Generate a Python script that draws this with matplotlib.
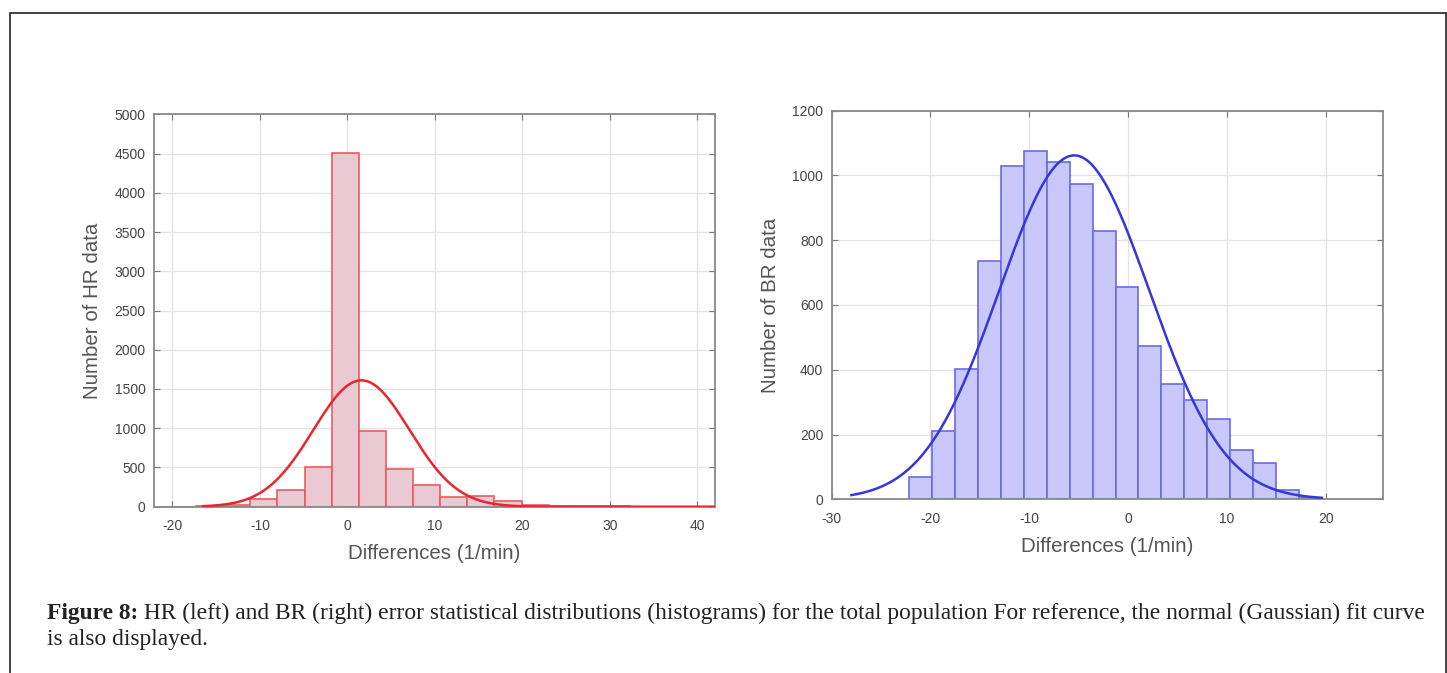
import numpy as np
import matplotlib
matplotlib.use("Agg")
import matplotlib.pyplot as plt
from matplotlib.patches import Rectangle
from matplotlib.text import Annotation

# HR histogram (left)
hr_edges = [-23.5, -20.4, -17.3, -14.2, -11.1, -8.0, -4.9, -1.8, 1.3, 4.4, 7.5,
            10.6, 13.7, 16.8, 19.9, 23.0, 26.1, 29.2, 32.3, 35.4, 38.5, 41.6, 44.7]
hr_counts = [0, 2, 6, 25, 97, 215, 500, 4510, 960, 480, 276,
             119, 140, 76, 22, 14, 10, 4, 2, 1, 2, 0]
hr_fit = {"mu": 1.6, "sigma": 5.5, "peak": 1610, "x0": -16.5, "x1": 42.0}

# BR histogram (right)
br_edges = [-22.15, -19.83, -17.51, -15.19, -12.87, -10.55, -8.23, -5.91, -3.59, -1.27,
            1.05, 3.37, 5.69, 8.01, 10.33, 12.65, 14.97, 17.29, 19.61]
br_counts = [70, 212, 401, 737, 1028, 1075, 1042, 975, 829, 655,
             474, 355, 307, 248, 152, 111, 29, 5]
br_fit = {"mu": -5.45, "sigma": 7.6, "peak": 1062, "x0": -28.0, "x1": 19.6}

hr_xticks = [-20, -10, 0, 10, 20, 30, 40]
hr_yticks = list(range(0, 5001, 500))
br_xticks = [-30, -20, -10, 0, 10, 20]
br_yticks = list(range(0, 1201, 200))

caption_bold = "Figure 8:"
caption_rest = (" HR (left) and BR (right) error statistical distributions (histograms) "
                "for the total population For reference, the normal (Gaussian) fit curve")
caption_line2 = "is also displayed."

plt.rcParams['font.family'] = ['Liberation Sans', 'DejaVu Sans']
plt.rcParams['axes.unicode_minus'] = False

fig = plt.figure(figsize=(14.47, 6.73), dpi=100)
fig.patch.set_facecolor('white')

# outer frame
fig.patches.append(Rectangle((10 / 1447, -0.05), 1436 / 1447, 1.05 - 13 / 673,
                             transform=fig.transFigure, fill=False,
                             edgecolor='#222222', linewidth=1.2))


def hist_panel(ax, edges, counts, fit, face, edge, curve, xlim, ylim, xticks, yticks, ylabel):
    edges = np.array(edges)
    ax.bar(edges[:-1], counts, width=np.diff(edges), align='edge',
           color=face, edgecolor=edge, linewidth=1.2, zorder=2)
    xs = np.linspace(fit["x0"], fit["x1"], 400)
    ys = fit["peak"] * np.exp(-0.5 * ((xs - fit["mu"]) / fit["sigma"]) ** 2)
    ax.plot(xs, ys, color=curve, linewidth=1.8, zorder=3)
    ax.set_xlim(*xlim)
    ax.set_ylim(*ylim)
    ax.set_xticks(xticks)
    ax.set_yticks(yticks)
    ax.grid(True, color='#e3e3e3', linewidth=0.9, zorder=0)
    ax.set_axisbelow(True)
    ax.tick_params(direction='in', length=4, color='#777777', labelcolor='#444444',
                   labelsize=10, top=True, right=True)
    ax.tick_params(axis='x', pad=9)
    ax.tick_params(axis='y', pad=6)
    for s in ax.spines.values():
        s.set_color('#8a8a8a')
        s.set_linewidth(1.3)
    ax.set_xlabel('Differences (1/min)', fontsize=14.8, color='#555555', labelpad=8)
    ax.set_ylabel(ylabel, fontsize=14.8, color='#555555', labelpad=9)


ax1 = fig.add_axes([154 / 1447, 1 - 506.7 / 673, 561 / 1447, 392.4 / 673])
hist_panel(ax1, hr_edges, hr_counts, hr_fit, '#e9cad2', '#ec5a5f', '#e8262e',
           (-22.1, 42.0), (0, 5000), hr_xticks, hr_yticks, 'Number of HR data')

ax2 = fig.add_axes([831.7 / 1447, 1 - 499.3 / 673, 551.3 / 1447, 388.6 / 673])
hist_panel(ax2, br_edges, br_counts, br_fit, '#c8c8fa', '#6a6ae6', '#3636dc',
           (-30, 25.8), (0, 1200), br_xticks, br_yticks, 'Number of BR data')

# caption
cap_size = 16.9
t1 = fig.text(47 / 1447, 1 - 624 / 673, caption_bold, fontsize=cap_size, fontweight='bold',
              family='Liberation Serif', color='#222222', va='bottom')
fig.add_artist(Annotation(caption_rest, xy=(1, 0), xycoords=t1, fontsize=cap_size,
                          family='Liberation Serif', color='#222222', va='bottom'))
fig.text(47 / 1447, 1 - 650 / 673, caption_line2, fontsize=cap_size, family='Liberation Serif',
         color='#222222', va='bottom')

fig.savefig('out.png', dpi=100)
